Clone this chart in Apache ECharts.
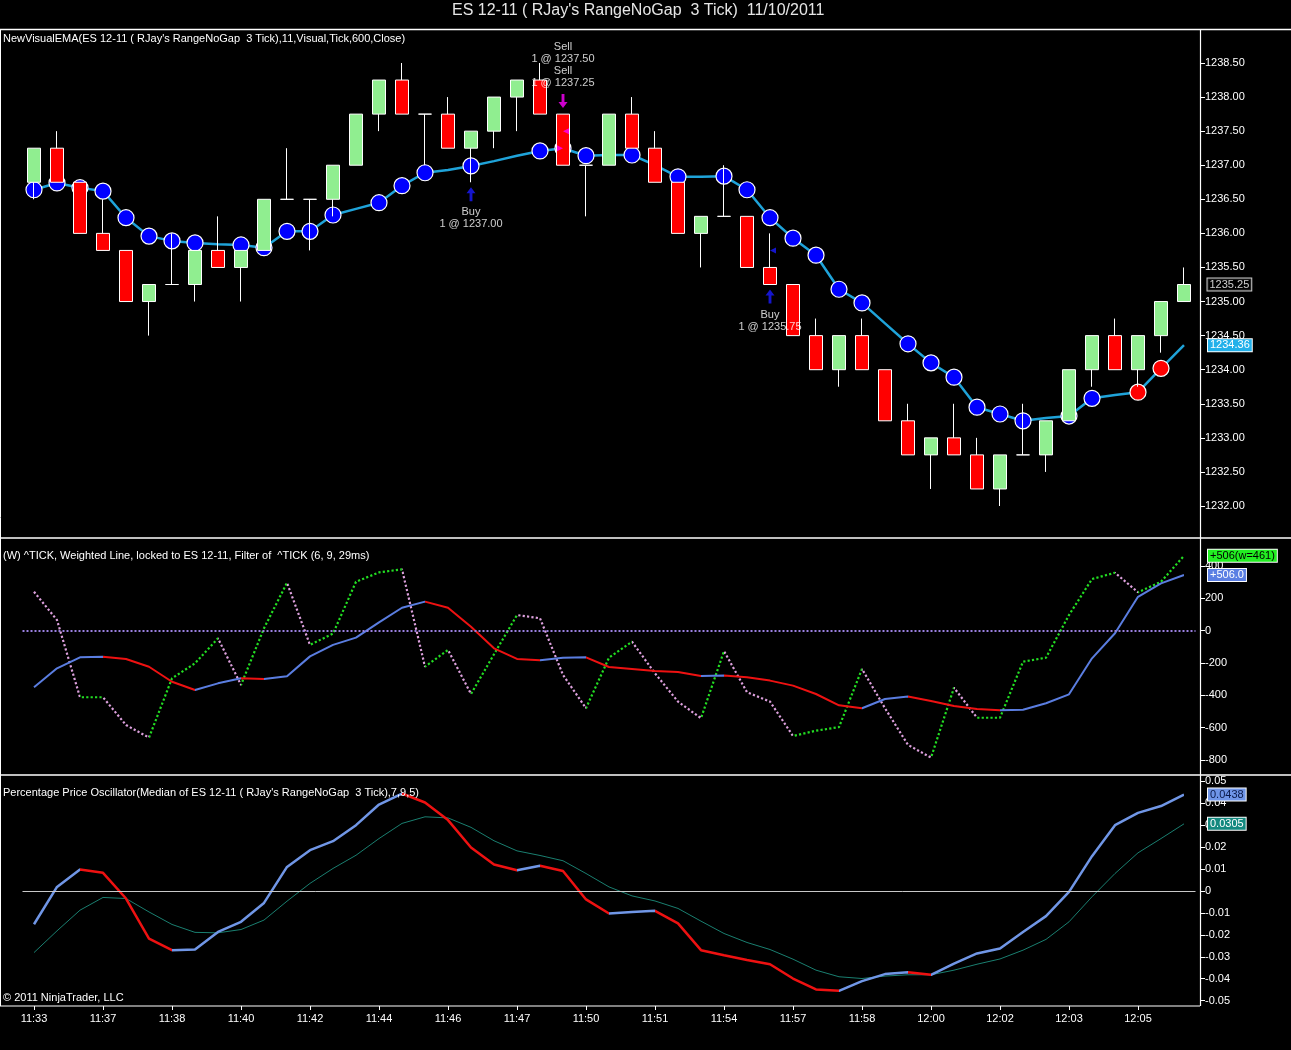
<!DOCTYPE html>
<html><head><meta charset="utf-8">
<script src="https://cdn.jsdelivr.net/npm/echarts@6/dist/echarts.min.js"></script>
<style>html,body{margin:0;padding:0;background:#000;}#c{width:1291px;height:1050px;}</style>
</head><body><div id="c"></div>
<script>
const tickLabels = ['11:33','11:37','11:38','11:40','11:42','11:44','11:46','11:47','11:50','11:51','11:54','11:57','11:58','12:00','12:02','12:03','12:05'];

const opens  = [1236.75,1237.25,1236.75,1236.0,1235.75,1235.0,1235.25,1235.25,1235.75,1235.5,1235.75,1236.5,1236.5,1236.5,1237.0,1237.75,1238.25,1237.75,1237.75,1237.25,1237.5,1238.0,1238.25,1237.75,1237.0,1237.0,1237.75,1237.25,1236.75,1236.0,1236.25,1236.25,1235.5,1235.25,1234.5,1234.0,1234.5,1234.0,1233.25,1232.75,1233.0,1232.75,1232.25,1232.75,1232.75,1233.25,1234.0,1234.5,1234.0,1234.5,1235.0];
const closes = [1237.25,1236.75,1236.0,1235.75,1235.0,1235.25,1235.25,1235.75,1235.5,1235.75,1236.5,1236.5,1236.5,1237.0,1237.75,1238.25,1237.75,1237.75,1237.25,1237.5,1238.0,1238.25,1237.75,1237.0,1237.0,1237.75,1237.25,1236.75,1236.0,1236.25,1236.25,1235.5,1235.25,1234.5,1234.0,1234.5,1234.0,1233.25,1232.75,1233.0,1232.75,1232.25,1232.75,1232.75,1233.25,1234.0,1234.5,1234.0,1234.5,1235.0,1235.25];
const lows   = [1236.5,1236.75,1236.0,1235.75,1235.0,1234.5,1235.25,1235.0,1235.5,1235.0,1235.75,1236.5,1235.75,1236.25,1237.0,1237.5,1237.75,1237.0,1237.25,1236.75,1237.25,1237.5,1237.75,1237.0,1236.25,1237.0,1237.25,1236.75,1236.0,1235.5,1236.25,1235.5,1235.25,1234.5,1234.0,1233.75,1234.0,1233.25,1232.75,1232.25,1232.75,1232.25,1232.0,1232.75,1232.5,1233.25,1233.75,1234.0,1233.75,1234.25,1235.0];
const highs  = [1237.25,1237.5,1236.75,1236.5,1235.75,1235.25,1236.0,1235.75,1236.25,1235.75,1236.5,1237.25,1236.5,1237.0,1237.75,1238.25,1238.5,1237.75,1238.0,1237.5,1238.0,1238.25,1238.5,1237.75,1237.0,1237.75,1238.0,1237.5,1236.75,1236.25,1237.0,1236.25,1236.0,1235.25,1234.75,1234.5,1234.75,1234.0,1233.5,1233.0,1233.5,1233.0,1232.75,1233.5,1233.25,1234.0,1234.5,1234.75,1234.5,1235.0,1235.5];

const emaValues = [1236.64,1236.74,1236.67,1236.62,1236.23,1235.96,1235.89,1235.86,1235.84,1235.83,1235.79,1236.03,1236.03,1236.27,1236.36,1236.45,1236.70,1236.89,1236.93,1236.99,1237.06,1237.14,1237.21,1237.25,1237.14,1237.15,1237.15,1237.00,1236.83,1236.83,1236.84,1236.64,1236.23,1235.93,1235.68,1235.18,1234.98,1234.68,1234.38,1234.10,1233.89,1233.45,1233.35,1233.25,1233.29,1233.32,1233.58,1233.63,1233.67,1234.02,1234.36];
const emaDots = ['b','b','b','b','b','b','b','b','','b','b','b','b','b','','b','b','b','','b','','','b','b','b','','b','','b','','b','b','b','b','b','b','b','','b','b','b','b','b','b','','b','b','','r','r',''];

const tradeBars  = [20, 24, 33];
const tradeSides = ['Buy', 'Sell', 'Buy'];
const tradeTexts = ['Buy\n1 @ 1237.00', 'Sell\n1 @ 1237.50\nSell\n1 @ 1237.25', 'Buy\n1 @ 1235.75'];

const fillBars   = [24, 24, 33];
const fillPrices = [1237.5, 1237.25, 1235.75];
const fillSides  = ['Sell', 'Sell', 'Buy'];
const fillPoints = ['left', 'right', 'left'];

const tickRaw = [241,66,-412,-412,-584,-662,-295,-202,-47,-336,15,297,-88,-18,303,361,380,-223,-119,-392,-146,97,77,-274,-480,-167,-68,-264,-439,-542,-126,-381,-439,-652,-619,-597,-237,-480,-707,-786,-353,-539,-539,-192,-167,97,320,359,238,303,464];
const tickWeighted = [-350,-233,-165,-161,-175,-223,-316,-367,-326,-295,-299,-282,-159,-88,-43,52,142,180,142,25,-109,-175,-183,-167,-165,-225,-237,-249,-256,-281,-278,-288,-309,-340,-392,-462,-480,-423,-408,-435,-466,-485,-493,-490,-449,-394,-171,-16,210,293,345];
const tickTags = ['+506(w=461)', '+506.0'];

const ppo = [-0.0152,0.0018,0.0097,0.0082,-0.0035,-0.0217,-0.0270,-0.0267,-0.0187,-0.0141,-0.0055,0.0109,0.0185,0.0226,0.0299,0.0393,0.0443,0.0402,0.0322,0.0197,0.0120,0.0094,0.0114,0.0090,-0.0039,-0.0103,-0.0096,-0.0091,-0.0148,-0.0270,-0.0293,-0.0315,-0.0334,-0.0399,-0.0449,-0.0455,-0.0411,-0.0379,-0.0370,-0.0382,-0.0331,-0.0285,-0.0262,-0.0187,-0.0115,-0.0005,0.0158,0.0299,0.0355,0.0386,0.0438];
const ppoSignal = [-0.0281,-0.0182,-0.0088,-0.0030,-0.0035,-0.0096,-0.0153,-0.0189,-0.0191,-0.0176,-0.0133,-0.0047,0.0034,0.0102,0.0162,0.0238,0.0307,0.0337,0.0332,0.0289,0.0228,0.0182,0.0161,0.0137,0.0079,0.0018,-0.0023,-0.0046,-0.0080,-0.0138,-0.0194,-0.0235,-0.0267,-0.0311,-0.0361,-0.0391,-0.0399,-0.0388,-0.0382,-0.0382,-0.0361,-0.0334,-0.0310,-0.0270,-0.0221,-0.0141,-0.0027,0.0079,0.0173,0.0238,0.0305];

// ---------- build ----------
const FONT = 'Liberation Sans, Arial, sans-serif';
const N = opens.length;
const categories = opens.map((_, i) => (i % 3 === 0 ? tickLabels[i / 3] : ''));
const candleData = opens.map((o, i) => [o, closes[i], lows[i], highs[i]]);

function dirPieces(vals, up, down) {
  const pcs = [];
  for (let i = 1; i < vals.length; i++) {
    const c = vals[i] >= vals[i - 1] ? up : down;
    if (i === 1) pcs.push({ lte: 1, color: c });
    else pcs.push({ gt: i - 1, lte: i, color: c });
  }
  return pcs;
}

const emaData = emaValues.map((v, i) => {
  const d = emaDots[i];
  if (!d) return { value: v, symbol: 'none' };
  return { value: v, symbol: 'circle', itemStyle: { color: d === 'r' ? '#ff0000' : '#0000ff', borderColor: '#ffffff', borderWidth: 1.2 } };
});

const UP_ARROW = 'path://M5,0 L10,6 L6.6,6 L6.6,14 L3.4,14 L3.4,6 L0,6 Z';
const DOWN_ARROW = 'path://M3.4,0 L6.6,0 L6.6,8 L10,8 L5,14 L0,8 L3.4,8 Z';

const tradeData = tradeBars.map((b, k) => {
  const buy = tradeSides[k] === 'Buy';
  return {
    value: [b - 1, buy ? lows[b - 1] : highs[b - 1]],
    symbol: buy ? UP_ARROW : DOWN_ARROW,
    symbolSize: [9, 14],
    symbolOffset: [0, buy ? 12 : -13],
    itemStyle: { color: buy ? '#1a1aff' : '#ff00ff' },
    label: {
      show: true, formatter: tradeTexts[k], position: buy ? 'bottom' : 'top', distance: 5,
      color: '#ffffff', fontSize: 11, lineHeight: 12, fontFamily: FONT, align: 'center'
    }
  };
});

const fillData = fillBars.map((b, k) => ({
  value: [b - 1, fillPrices[k]],
  symbol: 'triangle',
  symbolSize: [6, 6],
  symbolRotate: fillPoints[k] === 'left' ? 90 : -90,
  symbolOffset: [fillPoints[k] === 'left' ? 3 : -3, 0],
  itemStyle: { color: fillSides[k] === 'Buy' ? '#1a1aff' : '#ff00ff' }
}));

function tagLabel(bg, fg) {
  return { backgroundColor: bg, color: fg, borderColor: '#ffffff', borderWidth: 1, padding: [1, 2, 0, 2], fontSize: 11, fontFamily: FONT };
}

const axisCommon = {
  position: 'right', offset: 4.5,
  axisLine: { show: false },
  axisTick: { show: true, length: 5, lineStyle: { color: '#ffffff' } },
  splitLine: { show: false },
};

const option = {
  backgroundColor: '#000000',
  animation: false,
  textStyle: { fontFamily: FONT },
  title: [
    { text: "ES 12-11 ( RJay's RangeNoGap  3 Tick)  11/10/2011", left: 452, top: 3, padding: 0,
      textStyle: { color: '#e6e6e6', fontSize: 16, fontWeight: 'normal', fontFamily: FONT } },
    { text: "NewVisualEMA(ES 12-11 ( RJay's RangeNoGap  3 Tick),11,Visual,Tick,600,Close)", left: 3, top: 33, padding: 0,
      textStyle: { color: '#ffffff', fontSize: 11, fontWeight: 'normal', fontFamily: FONT } },
    { text: "(W) ^TICK, Weighted Line, locked to ES 12-11, Filter of  ^TICK (6, 9, 29ms)", left: 3, top: 550, padding: 0,
      textStyle: { color: '#ffffff', fontSize: 11, fontWeight: 'normal', fontFamily: FONT } },
    { text: "Percentage Price Oscillator(Median of ES 12-11 ( RJay's RangeNoGap  3 Tick),7,9,5)", left: 3, top: 787, padding: 0,
      textStyle: { color: '#ffffff', fontSize: 11, fontWeight: 'normal', fontFamily: FONT } },
    { text: "© 2011 NinjaTrader, LLC", left: 3, top: 992, padding: 0,
      textStyle: { color: '#ffffff', fontSize: 11, fontWeight: 'normal', fontFamily: FONT } }
  ],
  grid: [
    { left: 22.5, width: 1173, top: 63, height: 443 },
    { left: 22.5, width: 1173, top: 566.1, height: 193.8 },
    { left: 22.5, width: 1173, top: 781, height: 219.7 }
  ],
  xAxis: [
    { type: 'category', gridIndex: 0, data: categories, boundaryGap: true, show: false, axisLine: { onZero: false } },
    { type: 'category', gridIndex: 1, data: categories, boundaryGap: true, show: false, axisLine: { onZero: false } },
    { type: 'category', gridIndex: 2, data: categories, boundaryGap: true, position: 'bottom', offset: 5.3,
      axisLine: { show: false, onZero: false },
      axisTick: { show: true, alignWithLabel: true, interval: 2, length: 4, lineStyle: { color: '#ffffff' } },
      axisLabel: { interval: 2, color: '#ffffff', fontSize: 11, margin: 7, fontFamily: FONT },
      splitLine: { show: false } }
  ],
  yAxis: [
    Object.assign({ type: 'value', gridIndex: 0, min: 1232, max: 1238.5, interval: 0.5,
      axisLabel: { color: '#ffffff', fontSize: 11, margin: 5, fontFamily: FONT, formatter: v => v.toFixed(2) } }, axisCommon),
    Object.assign({ type: 'value', gridIndex: 1, min: -800, max: 400, interval: 200,
      axisLabel: { color: '#ffffff', fontSize: 11, margin: 5, fontFamily: FONT } }, axisCommon),
    Object.assign({ type: 'value', gridIndex: 2, min: -0.05, max: 0.05, interval: 0.01,
      axisLabel: { color: '#ffffff', fontSize: 11, margin: 5, fontFamily: FONT,
        formatter: v => { const r = Math.round(v * 100) / 100; return r === 0 ? '0' : String(r); } } }, axisCommon)
  ],
  visualMap: [
    { type: 'piecewise', show: false, dimension: 0, seriesIndex: 5, pieces: dirPieces(tickRaw, '#22dd22', '#dda0dd') },
    { type: 'piecewise', show: false, dimension: 0, seriesIndex: 6, pieces: dirPieces(tickWeighted, '#5a7de0', '#ee1111') },
    { type: 'piecewise', show: false, dimension: 0, seriesIndex: 7, pieces: dirPieces(ppo, '#7096e6', '#ee1111') }
  ],
  graphic: [
    { type: 'line', shape: { x1: 0, y1: 29.5, x2: 1291, y2: 29.5 }, style: { stroke: '#ffffff', lineWidth: 1.5 }, silent: true },
    { type: 'line', shape: { x1: 0, y1: 538, x2: 1291, y2: 538 }, style: { stroke: '#ffffff', lineWidth: 1.5 }, silent: true },
    { type: 'line', shape: { x1: 0, y1: 775, x2: 1291, y2: 775 }, style: { stroke: '#ffffff', lineWidth: 1.5 }, silent: true },
    { type: 'line', shape: { x1: 0, y1: 1006, x2: 1200, y2: 1006 }, style: { stroke: '#ffffff', lineWidth: 1.2 }, silent: true },
    { type: 'line', shape: { x1: 1200.5, y1: 29, x2: 1200.5, y2: 1006 }, style: { stroke: '#ffffff', lineWidth: 1.2 }, silent: true },
    { type: 'line', shape: { x1: 0.5, y1: 29, x2: 0.5, y2: 1006 }, style: { stroke: '#ffffff', lineWidth: 1 }, silent: true }
  ],
  series: [
    { // 0 EMA
      type: 'line', xAxisIndex: 0, yAxisIndex: 0, data: emaData, z: 1,
      showAllSymbol: true, symbolSize: 16,
      lineStyle: { color: '#1fa3d9', width: 2.5 },
      itemStyle: { color: '#0000ff' },
      endLabel: Object.assign({ show: true, distance: 24, formatter: p => p.value.toFixed(2) }, tagLabel('#22b0ea', '#ffffff'))
    },
    { // 1 candles
      type: 'candlestick', xAxisIndex: 0, yAxisIndex: 0, data: candleData, z: 2, barWidth: 14,
      itemStyle: { color: '#90ee90', color0: '#ff0000', borderColor: '#ffffff', borderColor0: '#ffffff', borderWidth: 1 }
    },
    { // 2 trade arrows
      type: 'scatter', xAxisIndex: 0, yAxisIndex: 0, data: tradeData, z: 4
    },
    { // 3 executions
      type: 'scatter', xAxisIndex: 0, yAxisIndex: 0, data: fillData, z: 4
    },
    { // 4 last price tag
      type: 'scatter', xAxisIndex: 0, yAxisIndex: 0, z: 5, symbolSize: 1,
      itemStyle: { color: 'rgba(0,0,0,0)' },
      data: [[N - 1, closes[N - 1]]],
      label: Object.assign({ show: true, position: 'right', distance: 23, formatter: p => p.value[1].toFixed(2) }, tagLabel('#000000', '#ffffff'))
    },
    { // 5 raw tick dotted
      type: 'line', xAxisIndex: 1, yAxisIndex: 1, data: tickRaw, showSymbol: false, clip: false, z: 2,
      lineStyle: { width: 2.2, type: 'dotted' },
      endLabel: Object.assign({ show: true, distance: 24, formatter: tickTags[0] }, tagLabel('#22ee22', '#000000'))
    },
    { // 6 weighted tick
      type: 'line', xAxisIndex: 1, yAxisIndex: 1, data: tickWeighted, showSymbol: false, clip: false, z: 3,
      lineStyle: { width: 2 },
      endLabel: Object.assign({ show: true, distance: 24, formatter: tickTags[1] }, tagLabel('#5b7fe3', '#ffffff')),
      markLine: { silent: true, symbol: 'none', label: { show: false },
        lineStyle: { color: '#9a80e0', type: 'dotted', width: 2 }, data: [{ yAxis: 0 }] }
    },
    { // 7 PPO
      type: 'line', xAxisIndex: 2, yAxisIndex: 2, data: ppo, showSymbol: false, z: 3,
      lineStyle: { width: 2.5 },
      endLabel: Object.assign({ show: true, distance: 24, formatter: p => p.value.toFixed(4) }, tagLabel('#6f95e8', '#0a1a4a'))
    },
    { // 8 signal
      type: 'line', xAxisIndex: 2, yAxisIndex: 2, data: ppoSignal, showSymbol: false, z: 2,
      lineStyle: { width: 1, color: '#1a7f70' }, itemStyle: { color: '#1a7f70' },
      endLabel: Object.assign({ show: true, distance: 24, formatter: p => p.value.toFixed(4) }, tagLabel('#14897f', '#ffffff')),
      markLine: { silent: true, symbol: 'none', label: { show: false },
        lineStyle: { color: '#c8c8c8', type: 'solid', width: 1 }, data: [{ yAxis: 0 }] }
    }
  ]
};

const chart = echarts.init(document.getElementById('c'), null, { renderer: 'canvas' });
chart.setOption(option);
</script>
</body></html>
